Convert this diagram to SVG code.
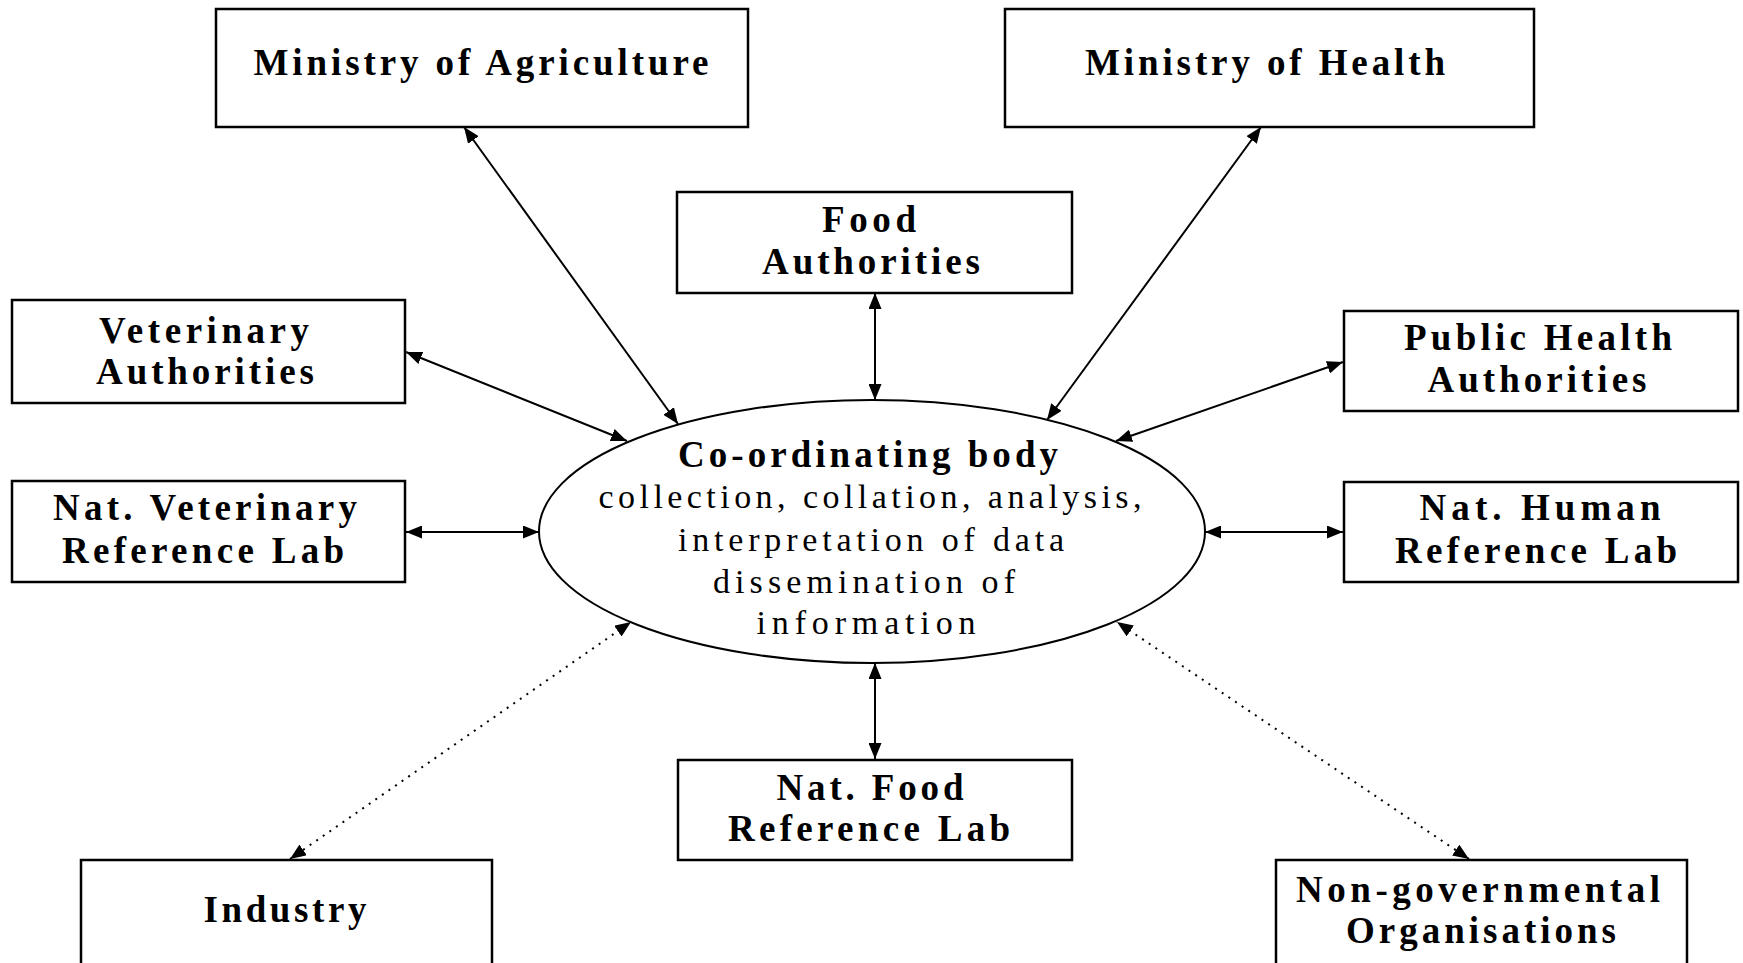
<svg xmlns="http://www.w3.org/2000/svg" width="1743" height="963" viewBox="0 0 1743 963">
<style>
.box{fill:#fff;stroke:#000;stroke-width:2.5}
.ell{fill:#fff;stroke:#000;stroke-width:2}
.b{font-family:"Liberation Serif","Times New Roman",serif;font-weight:bold;font-size:37px;fill:#000;text-anchor:middle}
.r{font-family:"Liberation Serif","Times New Roman",serif;font-size:34px;fill:#000;text-anchor:middle}
.c{stroke:#000;stroke-width:2;fill:none;marker-start:url(#ah);marker-end:url(#ah)}
.d{stroke-dasharray:2 6}
</style>
<defs>
<marker id="ah" viewBox="0 0 16 13" refX="16" refY="6.5" markerWidth="16" markerHeight="13" markerUnits="userSpaceOnUse" orient="auto-start-reverse"><path d="M0,0 L16,6.5 L0,13 z" fill="#000"/></marker>
</defs>
<rect width="1743" height="963" fill="#fff"/>
<g id="connectors">
<line class="c" x1="464" y1="127" x2="678" y2="424"/>
<line class="c" x1="1261" y1="127" x2="1047" y2="420"/>
<line class="c" x1="875" y1="293" x2="875" y2="400"/>
<line class="c" x1="406" y1="352" x2="627" y2="441"/>
<line class="c" x1="1343" y1="362" x2="1116" y2="441"/>
<line class="c" x1="406" y1="532" x2="539" y2="532"/>
<line class="c" x1="1205" y1="532" x2="1343" y2="532"/>
<line class="c" x1="875" y1="663" x2="875" y2="759"/>
<line class="c d" x1="290" y1="859" x2="631" y2="622"/>
<line class="c d" x1="1469" y1="859" x2="1117" y2="622"/>
</g>
<g id="ministry-agriculture">
<rect class="box" x="216" y="9" width="532" height="118"/>
<text class="b" x="481" y="75" textLength="455">Ministry of Agriculture</text>
</g>
<g id="ministry-health">
<rect class="box" x="1005" y="9" width="529" height="118"/>
<text class="b" x="1265" y="75" textLength="360">Ministry of Health</text>
</g>
<g id="food-authorities">
<rect class="box" x="677" y="192" width="395" height="101"/>
<text class="b" x="869" y="232" textLength="94">Food</text>
<text class="b" x="871" y="274" textLength="218">Authorities</text>
</g>
<g id="veterinary-authorities">
<rect class="box" x="12" y="300" width="393" height="103"/>
<text class="b" x="204" y="343" textLength="210">Veterinary</text>
<text class="b" x="205" y="384" textLength="218">Authorities</text>
</g>
<g id="public-health-authorities">
<rect class="box" x="1344" y="311" width="394" height="100"/>
<text class="b" x="1538" y="350" textLength="268">Public Health</text>
<text class="b" x="1537" y="392" textLength="219">Authorities</text>
</g>
<g id="nat-veterinary-lab">
<rect class="box" x="12" y="481" width="393" height="101"/>
<text class="b" x="205" y="520" textLength="304">Nat. Veterinary</text>
<text class="b" x="203" y="563" textLength="282">Reference Lab</text>
</g>
<g id="nat-human-lab">
<rect class="box" x="1344" y="482" width="394" height="100"/>
<text class="b" x="1540" y="520" textLength="241">Nat. Human</text>
<text class="b" x="1536" y="563" textLength="282">Reference Lab</text>
</g>
<g id="coordinating-body">
<ellipse class="ell" cx="872" cy="531.5" rx="333" ry="131.5"/>
<text class="b" x="868" y="467" textLength="380">Co-ordinating body</text>
<text class="r" x="870" y="508" textLength="543">collection, collation, analysis,</text>
<text class="r" x="871" y="551" textLength="386">interpretation of data</text>
<text class="r" x="864" y="593" textLength="302">dissemination of</text>
<text class="r" x="866" y="634" textLength="219">information</text>
</g>
<g id="nat-food-lab">
<rect class="box" x="678" y="760" width="394" height="100"/>
<text class="b" x="870" y="800" textLength="187">Nat. Food</text>
<text class="b" x="869" y="841" textLength="282">Reference Lab</text>
</g>
<g id="industry">
<rect class="box" x="81" y="860" width="411" height="130"/>
<text class="b" x="285" y="922" textLength="163">Industry</text>
</g>
<g id="ngo">
<rect class="box" x="1276" y="860" width="411" height="130"/>
<text class="b" x="1478" y="902" textLength="364">Non-governmental</text>
<text class="b" x="1481" y="943" textLength="270">Organisations</text>
</g>
</svg>
